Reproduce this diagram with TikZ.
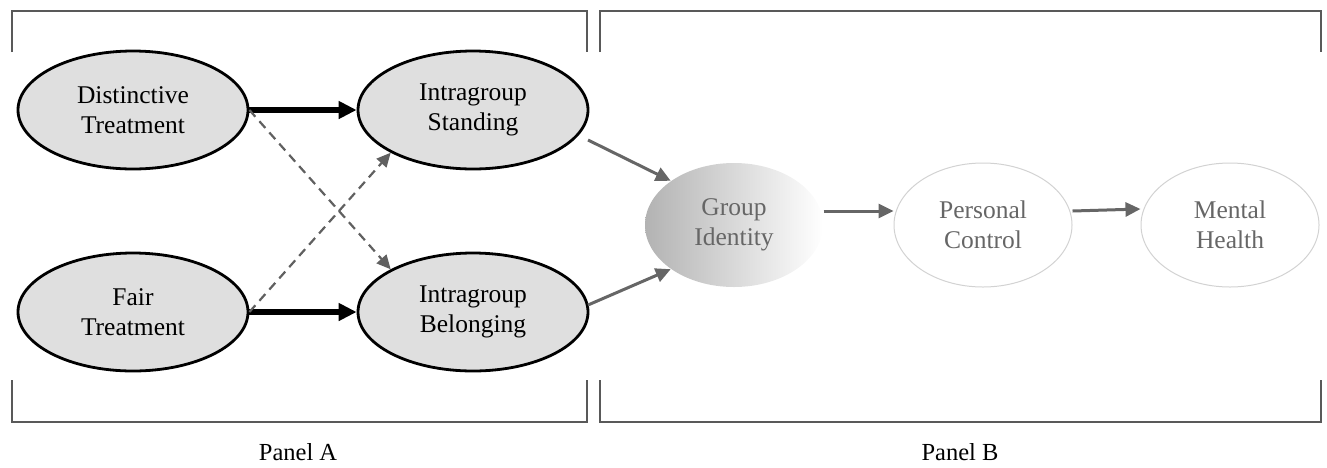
\documentclass[tikz,border=0pt]{standalone}
\usepackage{fontspec}
\setmainfont{Liberation Serif}
\usetikzlibrary{shapes.geometric,arrows.meta}
\begin{document}
\begin{tikzpicture}[x=1pt,y=-1pt,
  aell/.style={ellipse,draw=black,line width=2.8pt,fill=gray!25,minimum width=230pt,minimum height=118pt,align=center,font=\fontsize{25.5}{30}\selectfont,inner sep=0pt},
  bell/.style={ellipse,draw=gray!35,line width=1pt,minimum width=178pt,minimum height=124pt,align=center,font=\fontsize{25.5}{30}\selectfont,text=gray!80!black,inner sep=0pt},
  thickarr/.style={line width=6pt,-{Triangle[length=18pt,width=17pt]},black},
  dasharr/.style={dash pattern=on 9pt off 6pt,line width=2.2pt,draw=gray!75!black,-{Triangle[length=14pt,width=13pt]}},
  grayarr/.style={line width=3pt,draw=gray!80!black,-{Triangle[length=15pt,width=14pt]}},
  bracket/.style={draw=gray!70!black,line width=2pt},
  lab/.style={font=\fontsize{24.5}{28}\selectfont}]
\useasboundingbox (0,0) rectangle (1327,467);
% brackets
\draw[bracket] (12,52) -- (12,11) -- (587,11) -- (587,52);
\draw[bracket] (12,380) -- (12,422) -- (587,422) -- (587,380);
\draw[bracket] (600,52) -- (600,11) -- (1321,11) -- (1321,52);
\draw[bracket] (600,380) -- (600,422) -- (1321,422) -- (1321,380);
\node[lab] (pa) at (298,452) {Panel A};
\node[lab] (pb) at (960,452) {Panel B};
% panel A
\node[aell] (dt) at (133,110) {Distinctive\\Treatment};
\node[aell] (is) at (473,110) {Intragroup\\Standing};
\node[aell] (ft) at (133,312) {Fair\\Treatment};
\node[aell] (ib) at (473,312) {Intragroup\\Belonging};
\draw[thickarr] (dt.east) -- (is.west);
\draw[thickarr] (ft.east) -- (ib.west);
\draw[dasharr] (dt.east) -- (ib.north west);
\draw[dasharr] (ft.east) -- (is.south west);
% panel B
\node[bell,draw=none,left color=gray!60,right color=white,shading angle=90] (gi) at (734,225) {Group\\Identity};
\node[bell] (pc) at (983,225) {Personal\\Control};
\node[bell] (mh) at (1230,225) {Mental\\Health};
\coordinate (s1) at (588,140);
\coordinate (s2) at (588,305);
\draw[grayarr] (s1) -- (gi.north west);
\draw[grayarr] (s2) -- (gi.south west);
\draw[grayarr] ([yshift=14pt]gi.east) -- ([yshift=14pt]pc.west);
\draw[grayarr] ([yshift=14pt]pc.east) -- ([yshift=16pt]mh.west);
\end{tikzpicture}
\end{document}
